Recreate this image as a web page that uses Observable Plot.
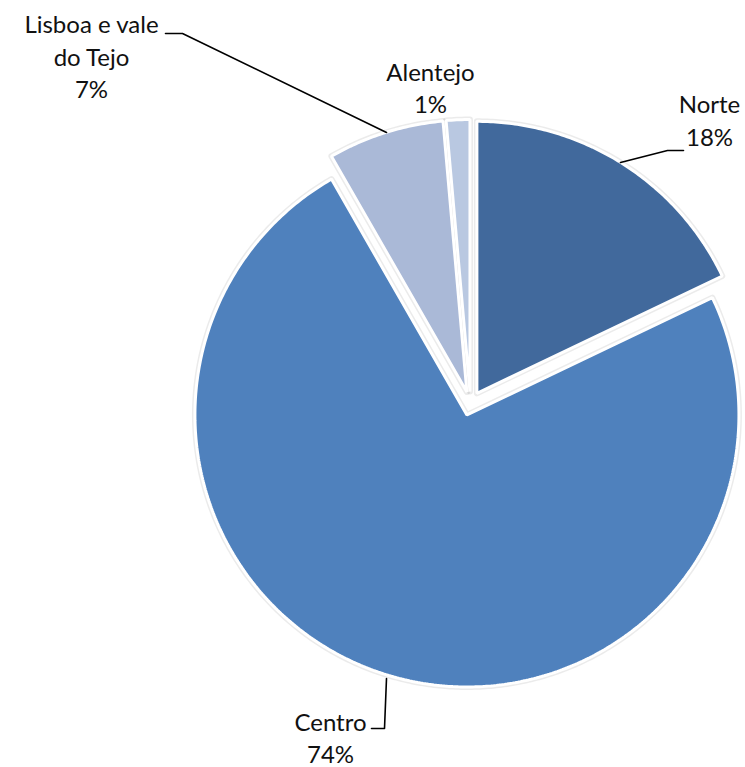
<!DOCTYPE html>
<html>
<head>
<meta charset="utf-8">
<script src="https://cdn.jsdelivr.net/npm/d3@7"></script>
<script src="https://cdn.jsdelivr.net/npm/@observablehq/plot@0.6"></script>
<style>
  html, body { margin: 0; padding: 0; background: #fff; }
  #chart svg { display: block; }
</style>
</head>
<body>
<div id="chart"></div>
<script>
// ---- data ----
const categories = ["Norte", "Centro", "Lisboa e vale do Tejo", "Alentejo"];
const values = [17.9, 73.8, 6.9, 1.4];
const percentLabels = ["18%", "74%", "7%", "1%"];
const colors = ["#41699C", "#4F81BD", "#AAB9D7", "#B9C8E1"];

// ---- layout ----
const W = 745, H = 767;
const CX = 470, CY = 403, R = 272, EXPLODE = 12;
const ux = px => (px - CX) / R;
const uy = py => (CY - py) / R;

const arcs = d3.pie().sort(null).value(d => d)(values);
const slicePts = [];
arcs.forEach((a, i) => {
  const mid = (a.startAngle + a.endAngle) / 2;
  const ox = Math.sin(mid) * EXPLODE / R, oy = Math.cos(mid) * EXPLODE / R;
  slicePts.push({ cat: categories[i], x: ox, y: oy, i: 0 });
  const n = Math.max(2, Math.ceil((a.endAngle - a.startAngle) / 0.01) + 1);
  for (let k = 0; k < n; k++) {
    const t = a.startAngle + (a.endAngle - a.startAngle) * k / (n - 1);
    slicePts.push({ cat: categories[i], x: ox + Math.sin(t), y: oy + Math.cos(t), i: k + 1 });
  }
});

// label lines (pixel anchor: center x, baseline y)
const labelLines = [
  { t: "Lisboa e vale", x: 91, y: 32 },
  { t: "do Tejo", x: 91, y: 65 },
  { t: percentLabels[2], x: 91, y: 97 },
  { t: "Alentejo", x: 430, y: 80 },
  { t: percentLabels[3], x: 430, y: 112 },
  { t: categories[0], x: 709, y: 112 },
  { t: percentLabels[0], x: 709, y: 145 },
  { t: categories[1], x: 330, y: 730 },
  { t: percentLabels[1], x: 330, y: 762 }
].map(d => ({ ...d, ux: ux(d.x), uy: uy(d.y) }));

// leader lines (pixel)
const leaders = [
  { id: "lis", pts: [[165, 33], [182, 33], [386, 132]] },
  { id: "nor", pts: [[620, 162], [667, 150], [683, 150]] },
  { id: "cen", pts: [[386, 678], [384, 728], [371, 728]] }
].flatMap(l => l.pts.map(p => ({ id: l.id, x: ux(p[0]), y: uy(p[1]) })));

const chart = Plot.plot({
  width: W,
  height: H,
  margin: 0,
  x: { domain: [ux(0), ux(W)], axis: null },
  y: { domain: [uy(H), uy(0)], axis: null },
  color: { domain: categories, range: colors },
  style: { fontFamily: "Lato, 'Open Sans', sans-serif", background: "#fff" },
  marks: [
    Plot.line(slicePts, { x: "x", y: "y", z: "cat", curve: "linear-closed", stroke: "#000", strokeOpacity: 0.08, strokeWidth: 6, fill: "none" }),
    Plot.line(slicePts, { x: "x", y: "y", z: "cat", curve: "linear-closed", fill: "cat", stroke: "#fff", strokeWidth: 3, strokeLinejoin: "miter" }),
    Plot.line(leaders, { x: "x", y: "y", z: "id", stroke: "#000", strokeWidth: 1.6 }),
    Plot.text(labelLines, { x: "ux", y: "uy", text: "t", lineAnchor: "bottom", textAnchor: "middle", fontSize: 24, fill: "#111" })
  ]
});
document.getElementById("chart").appendChild(chart);
</script>
</body>
</html>
